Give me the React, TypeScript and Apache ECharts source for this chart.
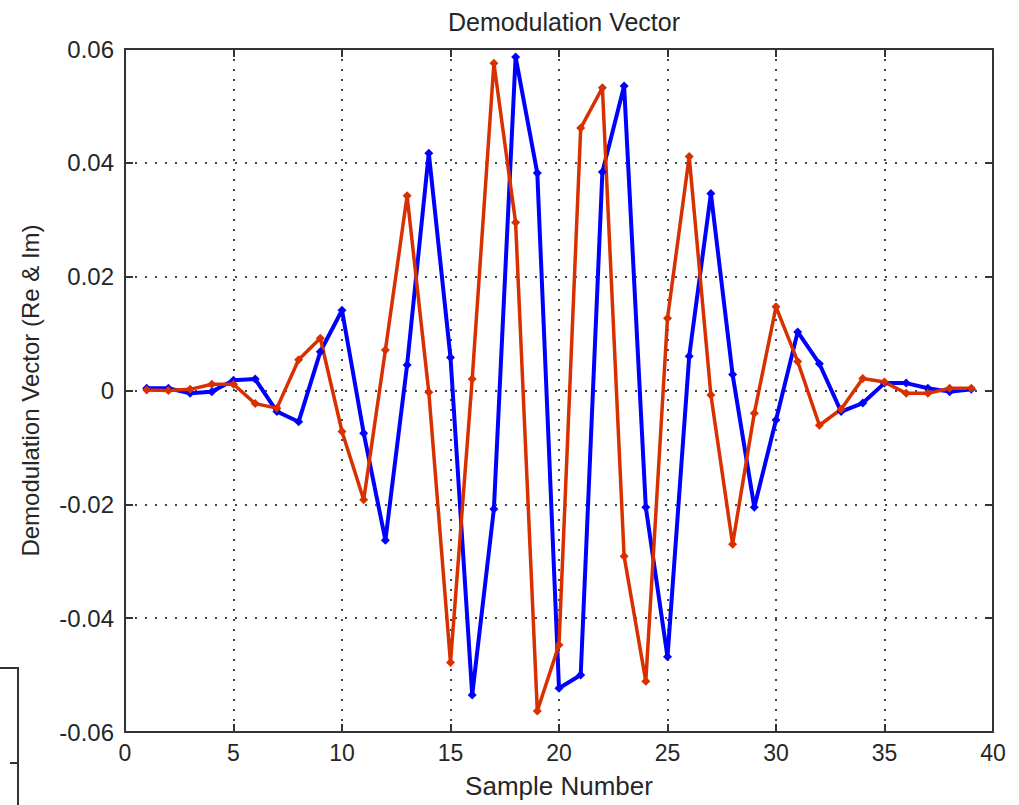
import React, { useEffect, useRef } from "react";
import * as echarts from "echarts";

const sampleNumbers = [1,2,3,4,5,6,7,8,9,10,11,12,13,14,15,16,17,18,19,20,21,22,23,24,25,26,27,28,29,30,31,32,33,34,35,36,37,38,39];

const realPart = [
  0.0004, 0.0004, -0.0005, -0.0002, 0.0018, 0.0020, -0.0037, -0.0055, 0.0068, 0.0141,
  -0.0075, -0.0263, 0.0045, 0.0417, 0.0058, -0.0535, -0.0208, 0.0586, 0.0382, -0.0523,
  -0.0500, 0.0384, 0.0535, -0.0205, -0.0468, 0.0060, 0.0346, 0.0028, -0.0205, -0.0052,
  0.0103, 0.0047, -0.0037, -0.0022, 0.0013, 0.0013, 0.0004, -0.0002, 0.0002
];

const imagPart = [
  0.0001, 0.0000, 0.0002, 0.0011, 0.0011, -0.0023, -0.0031, 0.0054, 0.0092, -0.0072,
  -0.0192, 0.0071, 0.0342, -0.0003, -0.0478, 0.0020, 0.0575, 0.0295, -0.0563, -0.0447,
  0.0461, 0.0532, -0.0291, -0.0511, 0.0127, 0.0411, -0.0008, -0.0270, -0.0040, 0.0147,
  0.0051, -0.0061, -0.0033, 0.0021, 0.0015, -0.0005, -0.0005, 0.0004, 0.0004
];

const xTicks = { min: 0, max: 40, interval: 5 };
const yTicks = { min: -0.06, max: 0.06, interval: 0.02 };

const titleText = "Demodulation Vector";
const xLabel = "Sample Number";
const yLabel = "Demodulation Vector (Re & Im)";

const FONT = "'Liberation Sans', Arial, sans-serif";
const TXT = "#262626";

export default function App() {
  const ref = useRef<HTMLDivElement>(null);
  useEffect(() => {
    if (!ref.current) return;
    const chart = echarts.init(ref.current, null, { renderer: "svg" });
    const fmtY = (v: number) => (Math.abs(v) < 1e-9 ? "0" : v.toFixed(2));
    const axisLine = { show: true, onZero: false, lineStyle: { color: "#333", width: 2 } };
    const tick = { show: true, inside: true, length: 8, lineStyle: { color: "#333", width: 2 } };
    const split = { show: true, lineStyle: { color: "#444", type: [2, 8], width: 2 } };
    const grid = { left: 125, top: 49, right: 26, bottom: 73 };
    chart.setOption({
      animation: false,
      backgroundColor: "#ffffff",
      title: {
        text: titleText,
        left: 559,
        textAlign: "center",
        top: 4,
        textStyle: { fontFamily: FONT, fontSize: 25, fontWeight: "normal", color: TXT },
      },
      grid,
      xAxis: [
        {
          type: "value",
          ...xTicks,
          name: xLabel,
          nameLocation: "middle",
          nameGap: 41,
          nameTextStyle: { fontFamily: FONT, fontSize: 26, color: TXT },
          axisLine,
          axisTick: tick,
          axisLabel: { fontFamily: FONT, fontSize: 23, color: TXT, margin: 9 },
          splitLine: split,
        },
        {
          type: "value",
          ...xTicks,
          position: "top",
          axisLine,
          axisTick: tick,
          axisLabel: { show: false },
          splitLine: { show: false },
        },
      ],
      yAxis: [
        {
          type: "value",
          ...yTicks,
          name: yLabel,
          nameLocation: "middle",
          nameGap: 83,
          nameTextStyle: { fontFamily: FONT, fontSize: 24, color: TXT },
          axisLine,
          axisTick: tick,
          axisLabel: { fontFamily: FONT, fontSize: 24, color: TXT, margin: 11, formatter: fmtY },
          splitLine: split,
        },
        {
          type: "value",
          ...yTicks,
          position: "right",
          axisLine,
          axisTick: tick,
          axisLabel: { show: false },
          splitLine: { show: false },
        },
      ],
      graphic: [
        {
          type: "polyline",
          shape: { points: [[0, 668], [18, 668], [18, 805]] },
          style: { stroke: "#333", lineWidth: 2, fill: "none" },
        },
        {
          type: "line",
          shape: { x1: 10, y1: 763, x2: 18, y2: 763 },
          style: { stroke: "#333", lineWidth: 2 },
        },
      ],
      series: [
        {
          name: "Re",
          type: "line",
          data: sampleNumbers.map((n, i) => [n, realPart[i]]),
          lineStyle: { color: "#0000ff", width: 4 },
          itemStyle: { color: "#0000ff" },
          symbol: "diamond",
          symbolSize: 9,
        },
        {
          name: "Im",
          type: "line",
          data: sampleNumbers.map((n, i) => [n, imagPart[i]]),
          lineStyle: { color: "#d93000", width: 3.5 },
          itemStyle: { color: "#d93000" },
          symbol: "diamond",
          symbolSize: 9,
        },
      ],
    });
    return () => chart.dispose();
  }, []);
  return (
    <div
      ref={ref}
      style={{ position: "fixed", left: 0, top: 0, width: 1019, height: 805, background: "#fff" }}
    />
  );
}
